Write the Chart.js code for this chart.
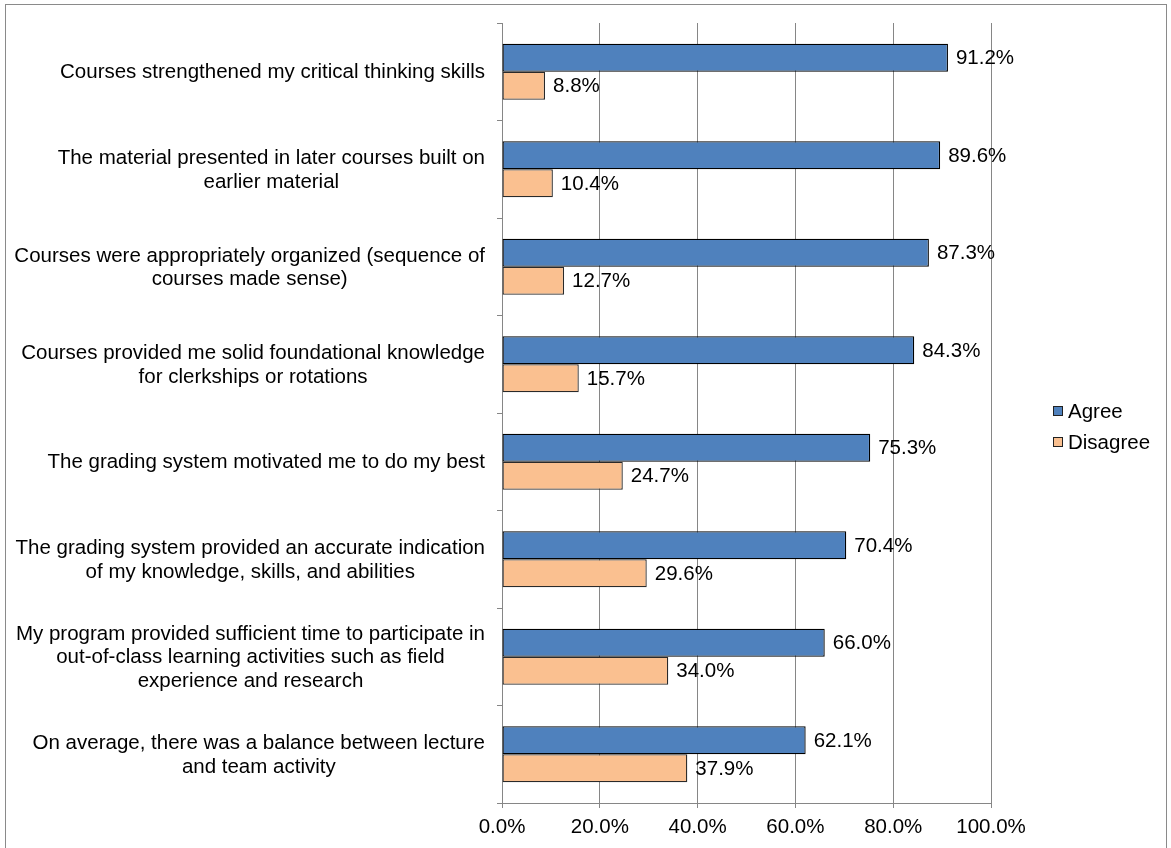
<!DOCTYPE html>
<html>
<head>
<meta charset="utf-8">
<script src="https://cdn.jsdelivr.net/npm/chart.js@4/dist/chart.umd.min.js"></script>
<style>
html,body{margin:0;padding:0;overflow:hidden;background:#fff;}
#wrap{position:absolute;left:0;top:0;width:1171px;height:848px;}
</style>
</head>
<body>
<div id="wrap"><canvas id="c"></canvas></div>
<script>
const categories = [
  ["Courses strengthened my critical thinking skills"],
  ["The material presented in later courses built on", "earlier material"],
  ["Courses were appropriately organized (sequence of", "courses made sense)"],
  ["Courses provided me solid foundational knowledge", "for clerkships or rotations"],
  ["The grading system motivated me to do my best"],
  ["The grading system provided an accurate indication", "of my knowledge, skills, and abilities"],
  ["My program provided sufficient time to participate in", "out-of-class learning activities such as field", "experience and research"],
  ["On average, there was a balance between lecture", "and team activity"]
];
const seriesNames = ["Agree", "Disagree"];
const agree = [91.2, 89.6, 87.3, 84.3, 75.3, 70.4, 66.0, 62.1];
const disagree = [8.8, 10.4, 12.7, 15.7, 24.7, 29.6, 34.0, 37.9];
const xTicks = [0, 20, 40, 60, 80, 100];

const FONT = '"Liberation Sans", Arial, sans-serif';
const FS = 20.5;
const GRID = '#868686';
const colors = ['#4F81BD', '#FAC090'];

const framePlugin = {
  id: 'frame',
  beforeDraw(chart) {
    const ctx = chart.ctx;
    ctx.save();
    ctx.fillStyle = '#fff';
    ctx.fillRect(0, 0, chart.width, chart.height);
    ctx.strokeStyle = '#8a8a8a';
    ctx.lineWidth = 1;
    ctx.strokeRect(5.5, 4.5, 1161, 900);
    ctx.restore();
  }
};

const yLabelPlugin = {
  id: 'yLabels',
  afterDraw(chart) {
    const ctx = chart.ctx;
    const ys = chart.scales.y;
    const right = chart.chartArea.left - 17;
    const lh = 23.7;
    ctx.save();
    ctx.font = FS + 'px ' + FONT;
    ctx.fillStyle = '#000';
    ctx.textAlign = 'center';
    ctx.textBaseline = 'middle';
    chart.data.labels.forEach((lines, i) => {
      const maxW = Math.max(...lines.map(l => ctx.measureText(l).width));
      const cx = right - maxW / 2;
      const cy = ys.getPixelForValue(i) + 1;
      const top = cy - (lines.length - 1) * lh / 2;
      lines.forEach((l, k) => ctx.fillText(l, cx, top + k * lh));
    });
    ctx.restore();
  }
};

const dataLabelPlugin = {
  id: 'dataLabels',
  afterDatasetsDraw(chart) {
    const ctx = chart.ctx;
    ctx.save();
    ctx.font = FS + 'px ' + FONT;
    ctx.fillStyle = '#000';
    ctx.textAlign = 'left';
    ctx.textBaseline = 'middle';
    chart.data.datasets.forEach((ds, di) => {
      const meta = chart.getDatasetMeta(di);
      meta.data.forEach((bar, i) => {
        ctx.fillText(ds.data[i].toFixed(1) + '%', bar.x + 8, bar.y + 1);
      });
    });
    ctx.restore();
  }
};

const legendPlugin = {
  id: 'customLegend',
  afterDraw(chart) {
    const ctx = chart.ctx;
    ctx.save();
    ctx.font = FS + 'px ' + FONT;
    ctx.textBaseline = 'middle';
    ctx.textAlign = 'left';
    const x = 1053, y0 = 411, gap = 31;
    chart.data.datasets.forEach((ds, i) => {
      const y = y0 + i * gap;
      ctx.fillStyle = ds.backgroundColor;
      ctx.fillRect(x, y - 5, 10, 10);
      ctx.strokeStyle = '#222';
      ctx.lineWidth = 1;
      ctx.strokeRect(x + 0.5, y - 4.5, 9, 9);
      ctx.fillStyle = '#000';
      ctx.fillText(ds.label, x + 15, y + 1);
    });
    ctx.restore();
  }
};

new Chart(document.getElementById('c'), {
  type: 'bar',
  data: {
    labels: categories,
    datasets: [
      { label: seriesNames[0], data: agree, backgroundColor: colors[0], borderColor: '#000', borderWidth: 1.3, borderSkipped: false },
      { label: seriesNames[1], data: disagree, backgroundColor: colors[1], borderColor: '#2a2a2a', borderWidth: 1.3, borderSkipped: false }
    ]
  },
  options: {
    indexAxis: 'y',
    responsive: true,
    maintainAspectRatio: false,
    animation: false,
    devicePixelRatio: 1,
    categoryPercentage: 0.574,
    barPercentage: 1.0,
    layout: { padding: { left: 0, right: 180, top: 23, bottom: 0 } },
    plugins: { legend: { display: false }, tooltip: { enabled: false } },
    scales: {
      x: {
        type: 'linear',
        min: 0, max: 100,
        afterBuildTicks(scale) { scale.ticks = xTicks.map(v => ({ value: v })); },
        afterFit(scale) { scale.height = 45; },
        ticks: {
          callback: v => Number(v).toFixed(1) + '%',
          color: '#000',
          font: { family: FONT, size: FS },
          padding: 7,
          maxRotation: 0
        },
        grid: { color: GRID, lineWidth: 1, tickLength: 5, drawTicks: true },
        border: { color: GRID, width: 1 }
      },
      y: {
        type: 'category',
        afterFit(scale) { scale.width = 502; },
        ticks: { display: false },
        grid: { color: GRID, drawOnChartArea: false, drawTicks: true, tickLength: 5, offset: true },
        border: { color: GRID, width: 1 }
      }
    }
  },
  plugins: [framePlugin, yLabelPlugin, dataLabelPlugin, legendPlugin]
});
</script>
</body>
</html>
